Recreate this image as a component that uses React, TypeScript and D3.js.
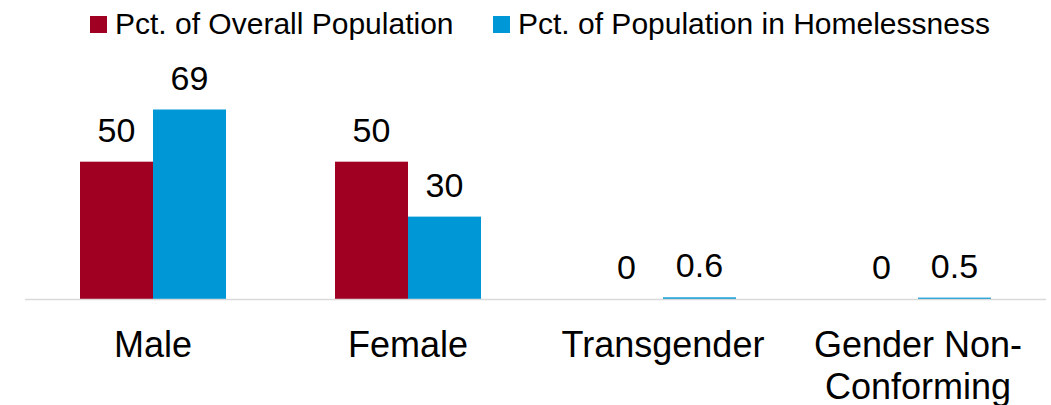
import React from "react";
import * as d3 from "d3";

const categories = ["Male", "Female", "Transgender", "Gender Non-Conforming"];
const categoryLines = [["Male"], ["Female"], ["Transgender"], ["Gender Non-", "Conforming"]];
const overallPct = [50, 50, 0, 0];
const homelessPct = [69, 30, 0.6, 0.5];
const overallLabels = ["50", "50", "0", "0"];
const homelessLabels = ["69", "30", "0.6", "0.5"];
const seriesNames = ["Pct. of Overall Population", "Pct. of Population in Homelessness"];
const seriesColors = ["#A00021", "#0097D6"];

const W = 1051;
const H = 405;
const FONT = "'Liberation Sans', Arial, sans-serif";

export default function App() {
  const x = d3.scaleBand<string>().domain(categories).range([25.5, 1045.5]).paddingInner(0.4275).paddingOuter(0.21375);
  const xs = d3.scaleBand<string>().domain(["overall", "homeless"]).range([0, x.bandwidth()]);
  const y = d3.scaleLinear().domain([0, 80]).range([299, 79.3]);
  const series = [
    { key: "overall", values: overallPct, labels: overallLabels, color: seriesColors[0] },
    { key: "homeless", values: homelessPct, labels: homelessLabels, color: seriesColors[1] },
  ];
  const legendX = [90, 493];
  return (
    <svg width={W} height={H} style={{ position: "absolute", left: 0, top: 0, background: "#fff" }} fontFamily={FONT}>
      {seriesNames.map((name, i) => (
        <g key={name}>
          <rect x={legendX[i]} y={16} width={17} height={17} fill={seriesColors[i]} />
          <text x={legendX[i] + 25} y={34} fontSize={30} fill="#000">{name}</text>
        </g>
      ))}
      {series.map((s) =>
        categories.map((c, i) => {
          const bx = (x(c) as number) + (xs(s.key) as number);
          const bw = xs.bandwidth();
          return (
            <g key={s.key + c}>
              <rect x={bx} y={y(s.values[i])} width={bw} height={y(0) - y(s.values[i])} fill={s.color} />
              <text x={bx + bw / 2} y={y(s.values[i]) - 20} fontSize={34} textAnchor="middle" fill="#000">{s.labels[i]}</text>
            </g>
          );
        })
      )}
      <line x1={25} x2={1046} y1={y(0) + 0.5} y2={y(0) + 0.5} stroke="#D9D9D9" strokeWidth={1.5} />
      {categories.map((c, i) => (
        <text key={c} x={(x(c) as number) + x.bandwidth() / 2} y={357} fontSize={36} textAnchor="middle" fill="#000">
          {categoryLines[i].map((ln, j) => (
            <tspan key={j} x={(x(c) as number) + x.bandwidth() / 2} dy={j === 0 ? 0 : 42}>{ln}</tspan>
          ))}
        </text>
      ))}
    </svg>
  );
}
